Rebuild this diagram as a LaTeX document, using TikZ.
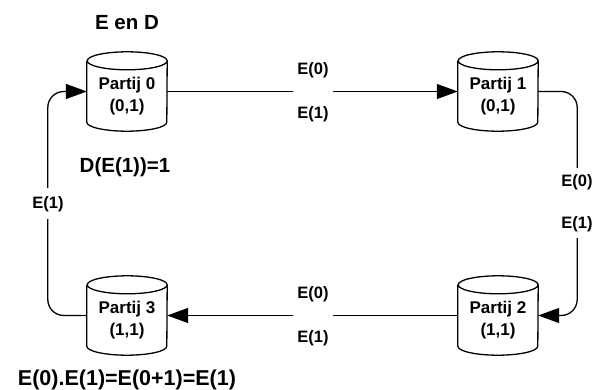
\documentclass[tikz,border=0pt]{standalone}
\usepackage{fontspec}
\setmainfont{Liberation Sans}
\usetikzlibrary{arrows.meta}
\tikzset{
  cylbox/.style={minimum width=80pt, minimum height=79pt, inner sep=0pt},
  cyltext/.style={align=center, font=\bfseries\fontsize{17}{22}\selectfont, inner sep=0pt},
  cylline/.style={line width=1.3pt},
  conn/.style={line width=1.3pt, rounded corners=16pt},
  arr/.style={-{Triangle[length=21pt,width=15pt]}},
  elabel/.style={fill=white, align=center, font=\bfseries\fontsize{16.5}{20}\selectfont, inner xsep=3.5pt, inner ysep=0pt},
  twolab/.style={elabel, minimum width=40pt, minimum height=70pt},
  onelab/.style={elabel, minimum width=36pt, minimum height=31pt},
  note/.style={font=\bfseries\fontsize{20.5}{24}\selectfont, inner sep=0pt},
}
\newcommand{\cylout}[1]{%
  \draw[cylline] ([yshift=-9pt]#1.north west) -- ([yshift=9pt]#1.south west)
    arc[start angle=180,end angle=360,x radius=40pt,y radius=9pt]
    -- ([yshift=-9pt]#1.north east)
    arc[start angle=0,end angle=360,x radius=40pt,y radius=9pt];}
\begin{document}
\begin{tikzpicture}[x=1pt,y=1pt]
\useasboundingbox (0,0) rectangle (592,-390);
% partitions
\node[cylbox] (P0) at (127,-91.5) {};
\node[cylbox] (P1) at (498,-91.5) {};
\node[cylbox] (P2) at (498,-315.5) {};
\node[cylbox] (P3) at (127,-315.5) {};
\cylout{P0}\cylout{P1}\cylout{P2}\cylout{P3}
\node[cyltext] (P0t) at ([yshift=-5pt]P0.center) {Partij 0\\(0,1)};
\node[cyltext] (P1t) at ([yshift=-5pt]P1.center) {Partij 1\\(0,1)};
\node[cyltext] (P2t) at ([yshift=-5pt]P2.center) {Partij 2\\(1,1)};
\node[cyltext] (P3t) at ([yshift=-5pt]P3.center) {Partij 3\\(1,1)};
% connectors
\draw[conn,arr] (P0.east) -- (P1.west);
\draw[conn,arr] (P1.east) -- ++(39,0) |- (P2.east);
\draw[conn,arr] (P2.west) -- (P3.east);
\draw[conn,arr] (P3.west) -- ++(-39,0) |- (P0.west);
% connector labels
\node[twolab] (L01) at (313,-92) {E(0)\\[24pt]E(1)};
\node[twolab] (L12) at (577,-203) {E(0)\\[22pt]E(1)};
\node[twolab] (L23) at (313,-316.5) {E(0)\\[24pt]E(1)};
\node[onelab] (L30) at (48,-204) {E(1)};
% notes
\node[note] (title) at (127,-23) {E en D};
\node[note] (dec) at (125,-167) {D(E(1))=1};
\node[note, font=\bfseries\fontsize{21.5}{25}\selectfont] (hom) at (127,-380) {E(0).E(1)=E(0+1)=E(1)};
\end{tikzpicture}
\end{document}
